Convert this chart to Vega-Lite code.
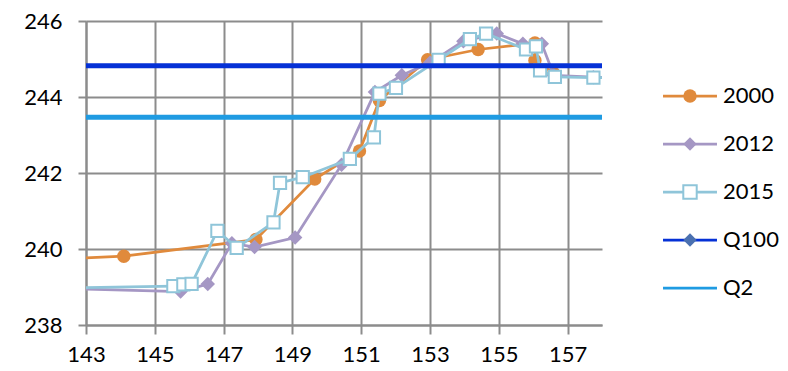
{
  "$schema": "https://vega.github.io/schema/vega-lite/v6.json",
  "width": 516,
  "height": 304,
  "autosize": {"type": "none"},
  "padding": {"left": 86, "top": 21, "right": 186, "bottom": 46},
  "background": "white",
  "config": {"view": {"stroke": null}, "font": "Lato"},
  "datasets": {
    "profiles": [
      {"series": "2000", "n": 0, "x": 142.0, "y": 239.73},
      {"series": "2000", "n": 1, "x": 144.10, "y": 239.81},
      {"series": "2000", "n": 2, "x": 147.94, "y": 240.25},
      {"series": "2000", "n": 3, "x": 149.65, "y": 241.84},
      {"series": "2000", "n": 4, "x": 150.95, "y": 242.58},
      {"series": "2000", "n": 5, "x": 151.53, "y": 243.91},
      {"series": "2000", "n": 6, "x": 152.93, "y": 244.98},
      {"series": "2000", "n": 7, "x": 154.40, "y": 245.25},
      {"series": "2000", "n": 8, "x": 156.05, "y": 245.42},
      {"series": "2000", "n": 9, "x": 156.05, "y": 244.96},
      {"series": "2000", "n": 10, "x": 156.60, "y": 244.62},
      {"series": "2012", "n": 0, "x": 142.0, "y": 238.97},
      {"series": "2012", "n": 1, "x": 145.75, "y": 238.88},
      {"series": "2012", "n": 2, "x": 146.54, "y": 239.08},
      {"series": "2012", "n": 3, "x": 147.24, "y": 240.15},
      {"series": "2012", "n": 4, "x": 147.90, "y": 240.05},
      {"series": "2012", "n": 5, "x": 149.08, "y": 240.30},
      {"series": "2012", "n": 6, "x": 150.43, "y": 242.22},
      {"series": "2012", "n": 7, "x": 151.40, "y": 244.13},
      {"series": "2012", "n": 8, "x": 152.18, "y": 244.57},
      {"series": "2012", "n": 9, "x": 153.00, "y": 244.90},
      {"series": "2012", "n": 10, "x": 153.97, "y": 245.47},
      {"series": "2012", "n": 11, "x": 154.94, "y": 245.67},
      {"series": "2012", "n": 12, "x": 155.70, "y": 245.40},
      {"series": "2012", "n": 13, "x": 156.25, "y": 245.40},
      {"series": "2012", "n": 14, "x": 156.60, "y": 244.57},
      {"series": "2012", "n": 15, "x": 157.75, "y": 244.52},
      {"series": "2012", "n": 16, "x": 158.50, "y": 244.50},
      {"series": "2015", "n": 0, "x": 142.0, "y": 238.97},
      {"series": "2015", "n": 1, "x": 145.54, "y": 239.02},
      {"series": "2015", "n": 2, "x": 145.83, "y": 239.07},
      {"series": "2015", "n": 3, "x": 146.07, "y": 239.08},
      {"series": "2015", "n": 4, "x": 146.82, "y": 240.48},
      {"series": "2015", "n": 5, "x": 147.38, "y": 240.03},
      {"series": "2015", "n": 6, "x": 148.45, "y": 240.70},
      {"series": "2015", "n": 7, "x": 148.64, "y": 241.74},
      {"series": "2015", "n": 8, "x": 149.30, "y": 241.89},
      {"series": "2015", "n": 9, "x": 150.67, "y": 242.37},
      {"series": "2015", "n": 10, "x": 151.37, "y": 242.94},
      {"series": "2015", "n": 11, "x": 151.53, "y": 244.09},
      {"series": "2015", "n": 12, "x": 152.01, "y": 244.24},
      {"series": "2015", "n": 13, "x": 153.25, "y": 244.98},
      {"series": "2015", "n": 14, "x": 154.16, "y": 245.52},
      {"series": "2015", "n": 15, "x": 154.63, "y": 245.67},
      {"series": "2015", "n": 16, "x": 155.79, "y": 245.25},
      {"series": "2015", "n": 17, "x": 156.08, "y": 245.33},
      {"series": "2015", "n": 18, "x": 156.20, "y": 244.70},
      {"series": "2015", "n": 19, "x": 156.63, "y": 244.53},
      {"series": "2015", "n": 20, "x": 157.75, "y": 244.51},
      {"series": "2015", "n": 21, "x": 158.50, "y": 244.50}
    ],
    "levels": [
      {"series": "Q100", "y": 244.82},
      {"series": "Q2", "y": 243.47}
    ]
  },
  "layer": [
    {
      "data": {"name": "profiles"},
      "transform": [{"calculate": "'m' + datum.series", "as": "key"}],
      "encoding": {
        "x": {
          "field": "x", "type": "quantitative",
          "scale": {"domain": [143, 158], "nice": false, "zero": false},
          "axis": {
            "values": [143, 145, 147, 149, 151, 153, 155, 157],
            "title": null, "grid": true,
            "gridColor": "#8c8c8c", "gridWidth": 2,
            "domainColor": "#8c8c8c", "domainWidth": 2,
            "tickColor": "#8c8c8c", "tickWidth": 2, "tickSize": 9,
            "labelFont": "Lato", "labelFontSize": 22, "labelColor": "#000000",
            "labelPadding": 10, "labelFlush": false, "labelOverlap": false
          }
        },
        "y": {
          "field": "y", "type": "quantitative",
          "scale": {"domain": [238, 246], "nice": false, "zero": false},
          "axis": {
            "values": [238, 240, 242, 244, 246],
            "title": null, "grid": true,
            "gridColor": "#8c8c8c", "gridWidth": 2,
            "domainColor": "#8c8c8c", "domainWidth": 2,
            "tickColor": "#8c8c8c", "tickWidth": 2, "tickSize": 8,
            "labelFont": "Lato", "labelFontSize": 22, "labelColor": "#000000",
            "labelPadding": 16, "labelFlush": false, "labelOverlap": false
          }
        },
        "order": {"field": "n", "type": "quantitative"}
      },
      "layer": [
        {
          "transform": [{"filter": "datum.series === '2000'"}],
          "mark": {"type": "line", "strokeWidth": 2.75, "clip": true},
          "encoding": {
            "color": {
              "field": "series", "type": "nominal",
              "scale": {"domain": ["2000", "2012", "2015", "Q100", "Q2"], "range": ["#E08A3C", "#A597C4", "#8FC5D9", "#0531D6", "#1F9BE2"]},
              "legend": {
                "orient": "none", "legendX": 593, "legendY": 64, "title": null, "padding": 0,
                "symbolType": "M-4,0L4,0", "symbolSize": 182, "symbolStrokeWidth": 2.75,
                "rowPadding": 26, "labelOffset": 22,
                "labelFont": "Lato", "labelFontSize": 22, "labelColor": "#000000"
              }
            }
          }
        },
        {
          "transform": [{"filter": "datum.series === '2000'"}],
          "mark": {"type": "point", "size": 180, "strokeWidth": 2, "opacity": 1, "clip": true},
          "encoding": {
            "shape": {
              "field": "key", "type": "nominal",
              "scale": {"domain": ["m2000", "m2012", "m2015", "mQ100", "mQ2"], "range": ["circle", "diamond", "square", "diamond", "circle"]},
              "legend": {
                "orient": "none", "legendX": 593, "legendY": 64, "title": null, "padding": 0,
                "symbolSize": 180, "symbolStrokeWidth": 2, "rowPadding": 26, "labelOffset": 22,
                "labelFont": "Lato", "labelFontSize": 22, "labelOpacity": 0, "labelExpr": "''"
              }
            },
            "fill": {
              "field": "key", "type": "nominal",
              "scale": {"domain": ["m2000", "m2012", "m2015", "mQ100", "mQ2"], "range": ["#E08A3C", "#A597C4", "#ffffff", "#4A70B0", "transparent"]}
            },
            "stroke": {
              "field": "key", "type": "nominal",
              "scale": {"domain": ["m2000", "m2012", "m2015", "mQ100", "mQ2"], "range": ["transparent", "transparent", "#8FC5D9", "transparent", "transparent"]}
            }
          }
        },
        {
          "transform": [{"filter": "datum.series === '2012'"}],
          "mark": {"type": "line", "strokeWidth": 2.75, "clip": true},
          "encoding": {
            "color": {"field": "series", "type": "nominal", "scale": {"domain": ["2000", "2012", "2015", "Q100", "Q2"], "range": ["#E08A3C", "#A597C4", "#8FC5D9", "#0531D6", "#1F9BE2"]}}
          }
        },
        {
          "transform": [{"filter": "datum.series === '2012'"}],
          "mark": {"type": "point", "size": 210, "strokeWidth": 2, "opacity": 1, "clip": true},
          "encoding": {
            "shape": {"field": "key", "type": "nominal", "scale": {"domain": ["m2000", "m2012", "m2015", "mQ100", "mQ2"], "range": ["circle", "diamond", "square", "diamond", "circle"]}},
            "fill": {"field": "key", "type": "nominal", "scale": {"domain": ["m2000", "m2012", "m2015", "mQ100", "mQ2"], "range": ["#E08A3C", "#A597C4", "#ffffff", "#4A70B0", "transparent"]}},
            "stroke": {"field": "key", "type": "nominal", "scale": {"domain": ["m2000", "m2012", "m2015", "mQ100", "mQ2"], "range": ["transparent", "transparent", "#8FC5D9", "transparent", "transparent"]}}
          }
        },
        {
          "transform": [{"filter": "datum.series === '2015'"}],
          "mark": {"type": "line", "strokeWidth": 2.75, "clip": true},
          "encoding": {
            "color": {"field": "series", "type": "nominal", "scale": {"domain": ["2000", "2012", "2015", "Q100", "Q2"], "range": ["#E08A3C", "#A597C4", "#8FC5D9", "#0531D6", "#1F9BE2"]}}
          }
        },
        {
          "transform": [{"filter": "datum.series === '2015'"}],
          "mark": {"type": "point", "size": 150, "strokeWidth": 2, "opacity": 1, "clip": true},
          "encoding": {
            "shape": {"field": "key", "type": "nominal", "scale": {"domain": ["m2000", "m2012", "m2015", "mQ100", "mQ2"], "range": ["circle", "diamond", "square", "diamond", "circle"]}},
            "fill": {"field": "key", "type": "nominal", "scale": {"domain": ["m2000", "m2012", "m2015", "mQ100", "mQ2"], "range": ["#E08A3C", "#A597C4", "#ffffff", "#4A70B0", "transparent"]}},
            "stroke": {"field": "key", "type": "nominal", "scale": {"domain": ["m2000", "m2012", "m2015", "mQ100", "mQ2"], "range": ["transparent", "transparent", "#8FC5D9", "transparent", "transparent"]}}
          }
        }
      ]
    },
    {
      "data": {"name": "levels"},
      "mark": {"type": "rule", "strokeWidth": 5},
      "encoding": {
        "y": {
          "field": "y", "type": "quantitative",
          "scale": {"domain": [238, 246], "nice": false, "zero": false},
          "axis": {
            "values": [238, 240, 242, 244, 246],
            "title": null, "grid": true,
            "gridColor": "#8c8c8c", "gridWidth": 2,
            "domainColor": "#8c8c8c", "domainWidth": 2,
            "tickColor": "#8c8c8c", "tickWidth": 2, "tickSize": 8,
            "labelFont": "Lato", "labelFontSize": 22, "labelColor": "#000000",
            "labelPadding": 16, "labelFlush": false, "labelOverlap": false
          }
        },
        "color": {
          "field": "series", "type": "nominal",
          "scale": {"domain": ["2000", "2012", "2015", "Q100", "Q2"], "range": ["#E08A3C", "#A597C4", "#8FC5D9", "#0531D6", "#1F9BE2"]},
          "legend": {
            "orient": "none", "legendX": 593, "legendY": 64, "title": null, "padding": 0,
            "symbolType": "M-4,0L4,0", "symbolSize": 182, "symbolStrokeWidth": 2.75,
            "rowPadding": 26, "labelOffset": 22,
            "labelFont": "Lato", "labelFontSize": 22, "labelColor": "#000000"
          }
        }
      }
    }
  ]
}
